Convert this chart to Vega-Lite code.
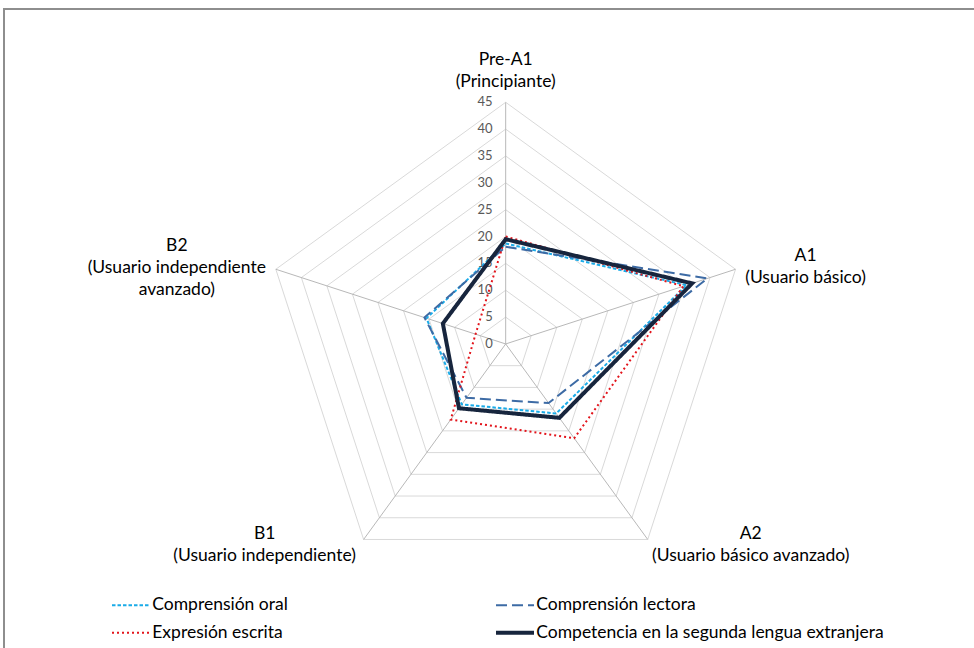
{
  "$schema": "https://vega.github.io/schema/vega-lite/v6.json",
  "width": 975,
  "height": 645,
  "autosize": {"type": "none"},
  "padding": {"left": 4, "top": 9, "right": 0, "bottom": 0},
  "background": "white",
  "config": {
    "view": {"stroke": "#8e8e8e", "strokeWidth": 2},
    "font": "Lato",
    "text": {"font": "Lato"}
  },
  "datasets": {
    "axes": [
      {"axis": "Pre-A1", "idx": 0, "label": ["Pre-A1", "(Principiante)"]},
      {"axis": "A1", "idx": 1, "label": ["A1", "(Usuario básico)"]},
      {"axis": "A2", "idx": 2, "label": ["A2", "(Usuario básico avanzado)"]},
      {"axis": "B1", "idx": 3, "label": ["B1", "(Usuario independiente)"]},
      {"axis": "B2", "idx": 4, "label": ["B2", "(Usuario independiente", "avanzado)"]}
    ],
    "rings": [
      {"level": 5, "idx": [0, 1, 2, 3, 4]},
      {"level": 10, "idx": [0, 1, 2, 3, 4]},
      {"level": 15, "idx": [0, 1, 2, 3, 4]},
      {"level": 20, "idx": [0, 1, 2, 3, 4]},
      {"level": 25, "idx": [0, 1, 2, 3, 4]},
      {"level": 30, "idx": [0, 1, 2, 3, 4]},
      {"level": 35, "idx": [0, 1, 2, 3, 4]},
      {"level": 40, "idx": [0, 1, 2, 3, 4]},
      {"level": 45, "idx": [0, 1, 2, 3, 4]}
    ],
    "ticks": [
      {"level": 0}, {"level": 5}, {"level": 10}, {"level": 15}, {"level": 20},
      {"level": 25}, {"level": 30}, {"level": 35}, {"level": 40}, {"level": 45}
    ],
    "scores": [
      {"serie": "Comprensión oral", "axis": "Pre-A1", "value": 18.7},
      {"serie": "Comprensión oral", "axis": "A1", "value": 35.4},
      {"serie": "Comprensión oral", "axis": "A2", "value": 16.0},
      {"serie": "Comprensión oral", "axis": "B1", "value": 13.9},
      {"serie": "Comprensión oral", "axis": "B2", "value": 15.5},
      {"serie": "Comprensión lectora", "axis": "Pre-A1", "value": 18.1},
      {"serie": "Comprensión lectora", "axis": "A1", "value": 39.5},
      {"serie": "Comprensión lectora", "axis": "A2", "value": 13.6},
      {"serie": "Comprensión lectora", "axis": "B1", "value": 12.4},
      {"serie": "Comprensión lectora", "axis": "B2", "value": 15.9},
      {"serie": "Expresión escrita", "axis": "Pre-A1", "value": 20.0},
      {"serie": "Expresión escrita", "axis": "A1", "value": 34.8},
      {"serie": "Expresión escrita", "axis": "A2", "value": 21.7},
      {"serie": "Expresión escrita", "axis": "B1", "value": 17.4},
      {"serie": "Expresión escrita", "axis": "B2", "value": 5.9},
      {"serie": "Competencia en la segunda lengua extranjera", "axis": "Pre-A1", "value": 19.5},
      {"serie": "Competencia en la segunda lengua extranjera", "axis": "A1", "value": 36.5},
      {"serie": "Competencia en la segunda lengua extranjera", "axis": "A2", "value": 17.0},
      {"serie": "Competencia en la segunda lengua extranjera", "axis": "B1", "value": 14.8},
      {"serie": "Competencia en la segunda lengua extranjera", "axis": "B2", "value": 12.3}
    ]
  },
  "encoding": {
    "x": {"field": "px", "type": "quantitative", "scale": {"domain": [-93.41, 88.13], "nice": false, "zero": false}, "axis": null},
    "y": {"field": "py", "type": "quantitative", "scale": {"domain": [-57.73, 62.37], "nice": false, "zero": false}, "axis": null}
  },
  "layer": [
    {
      "data": {"name": "rings"},
      "transform": [
        {"flatten": ["idx"]},
        {"calculate": "PI/2 - datum.idx*2*PI/5", "as": "a"},
        {"calculate": "datum.level*cos(datum.a)", "as": "px"},
        {"calculate": "datum.level*sin(datum.a)", "as": "py"}
      ],
      "mark": {"type": "line", "interpolate": "linear-closed", "color": "#d9d9d9", "strokeWidth": 1},
      "encoding": {
        "detail": {"field": "level", "type": "nominal"},
        "order": {"field": "idx", "type": "quantitative"}
      }
    },
    {
      "data": {"name": "axes"},
      "transform": [
        {"calculate": "PI/2 - datum.idx*2*PI/5", "as": "a"},
        {"calculate": "45*cos(datum.a)", "as": "px"},
        {"calculate": "45*sin(datum.a)", "as": "py"}
      ],
      "mark": {"type": "rule", "color": "#b8b8b8", "strokeWidth": 1},
      "encoding": {
        "x2": {"datum": 0},
        "y2": {"datum": 0}
      }
    },
    {
      "data": {"name": "ticks"},
      "transform": [
        {"calculate": "0", "as": "px"},
        {"calculate": "datum.level", "as": "py"}
      ],
      "mark": {"type": "text", "align": "right", "baseline": "middle", "dx": -13, "fontSize": 13, "color": "#595959"},
      "encoding": {
        "text": {"field": "level", "type": "quantitative"}
      }
    },
    {
      "data": {"name": "scores"},
      "transform": [
        {"lookup": "axis", "from": {"data": {"name": "axes"}, "key": "axis", "fields": ["idx"]}},
        {"calculate": "PI/2 - datum.idx*2*PI/5", "as": "a"},
        {"calculate": "datum.value*cos(datum.a)", "as": "px"},
        {"calculate": "datum.value*sin(datum.a)", "as": "py"}
      ],
      "mark": {"type": "line", "interpolate": "linear-closed"},
      "encoding": {
        "order": {"field": "idx", "type": "quantitative"},
        "color": {
          "field": "serie", "type": "nominal",
          "scale": {
            "domain": ["Comprensión oral", "Expresión escrita", "Comprensión lectora", "Competencia en la segunda lengua extranjera"],
            "range": ["#1aabe8", "#e3141b", "#3d6ba5", "#17253d"]
          },
          "legend": {
            "orient": "none", "legendX": 108, "legendY": 587, "columns": 2, "title": null,
            "symbolType": "stroke", "symbolSize": 1444, "symbolOffset": 10.25,
            "labelFontSize": 17.5, "labelFont": "Lato",
            "labelColor": "#000000", "columnPadding": 200, "rowPadding": 9, "labelOffset": 12.5,
            "labelLimit": 500,
            "encode": {
              "symbols": {
                "update": {
                  "strokeWidth": {"signal": "datum.value == 'Competencia en la segunda lengua extranjera' ? 4 : 2"}
                }
              }
            }
          }
        },
        "strokeDash": {
          "field": "serie", "type": "nominal",
          "scale": {
            "domain": ["Comprensión oral", "Expresión escrita", "Comprensión lectora", "Competencia en la segunda lengua extranjera"],
            "range": [[3.5, 2], [2, 3], [11, 5], [1, 0]]
          }
        },
        "strokeWidth": {
          "condition": {"test": "datum.serie == 'Competencia en la segunda lengua extranjera'", "value": 4},
          "value": 2
        }
      }
    },
    {
      "data": {"name": "axes"},
      "transform": [
        {"filter": "datum.idx == 0"},
        {"calculate": "PI/2 - datum.idx*2*PI/5", "as": "a"},
        {"calculate": "45*cos(datum.a)", "as": "px"},
        {"calculate": "45*sin(datum.a)", "as": "py"}
      ],
      "mark": {"type": "text", "align": "center", "baseline": "middle", "dx": 0, "dy": -42, "fontSize": 17.5, "lineHeight": 22, "color": "#000000"},
      "encoding": {"text": {"field": "label", "type": "nominal"}}
    },
    {
      "data": {"name": "axes"},
      "transform": [
        {"filter": "datum.idx == 1"},
        {"calculate": "PI/2 - datum.idx*2*PI/5", "as": "a"},
        {"calculate": "45*cos(datum.a)", "as": "px"},
        {"calculate": "45*sin(datum.a)", "as": "py"}
      ],
      "mark": {"type": "text", "align": "center", "baseline": "middle", "dx": 70, "dy": -13, "fontSize": 17.5, "lineHeight": 22, "color": "#000000"},
      "encoding": {"text": {"field": "label", "type": "nominal"}}
    },
    {
      "data": {"name": "axes"},
      "transform": [
        {"filter": "datum.idx == 2"},
        {"calculate": "PI/2 - datum.idx*2*PI/5", "as": "a"},
        {"calculate": "45*cos(datum.a)", "as": "px"},
        {"calculate": "45*sin(datum.a)", "as": "py"}
      ],
      "mark": {"type": "text", "align": "center", "baseline": "middle", "dx": 103, "dy": -5.5, "fontSize": 17.5, "lineHeight": 22, "color": "#000000"},
      "encoding": {"text": {"field": "label", "type": "nominal"}}
    },
    {
      "data": {"name": "axes"},
      "transform": [
        {"filter": "datum.idx == 3"},
        {"calculate": "PI/2 - datum.idx*2*PI/5", "as": "a"},
        {"calculate": "45*cos(datum.a)", "as": "px"},
        {"calculate": "45*sin(datum.a)", "as": "py"}
      ],
      "mark": {"type": "text", "align": "center", "baseline": "middle", "dx": -99, "dy": -5.5, "fontSize": 17.5, "lineHeight": 22, "color": "#000000"},
      "encoding": {"text": {"field": "label", "type": "nominal"}}
    },
    {
      "data": {"name": "axes"},
      "transform": [
        {"filter": "datum.idx == 4"},
        {"calculate": "PI/2 - datum.idx*2*PI/5", "as": "a"},
        {"calculate": "45*cos(datum.a)", "as": "px"},
        {"calculate": "45*sin(datum.a)", "as": "py"}
      ],
      "mark": {"type": "text", "align": "center", "baseline": "middle", "dx": -99, "dy": -23, "fontSize": 17.5, "lineHeight": 22, "color": "#000000"},
      "encoding": {"text": {"field": "label", "type": "nominal"}}
    }
  ]
}
